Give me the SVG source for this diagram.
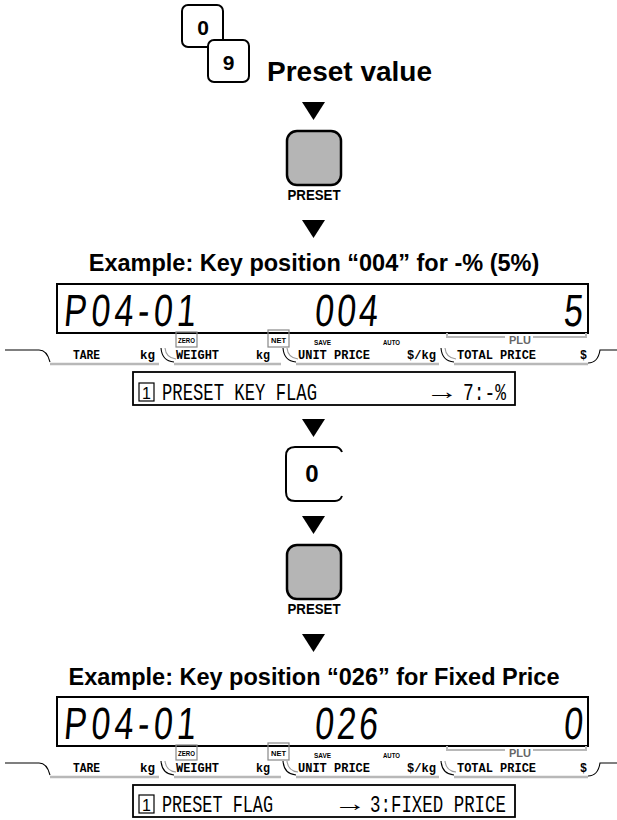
<svg xmlns="http://www.w3.org/2000/svg" width="617" height="820" viewBox="0 0 617 820">
<style>
.bg{fill:#fff}
.key{fill:#fff;stroke:#000;stroke-width:2}
.pkey{fill:#b5b5b5;stroke:#000;stroke-width:2.5}
.kt{font-family:"Liberation Sans",Arial,sans-serif;font-weight:bold;fill:#000;text-anchor:middle}
.title{font-family:"Liberation Sans",Arial,sans-serif;font-weight:bold;fill:#000}
.lcd{fill:#fff;stroke:#000;stroke-width:2}
.dig{font-family:"Liberation Sans",Arial,sans-serif;font-size:34px;fill:#000}
.lab{font-family:"Liberation Mono","DejaVu Sans Mono",monospace;font-weight:bold;font-size:13px;fill:#000}
.tiny{font-family:"Liberation Sans",Arial,sans-serif;font-weight:bold;font-size:6.5px;fill:#000}
.sbox{fill:none;stroke:#888;stroke-width:1.2}
.gl{fill:none;stroke:#b8b8b8;stroke-width:2.5}
.bl{fill:none;stroke:#000;stroke-width:1.1}
.gc{fill:none;stroke:#999;stroke-width:1.1}
.info{fill:#fff;stroke:#000;stroke-width:1.8}
.it{font-family:"Liberation Mono","DejaVu Sans Mono",monospace;font-size:23px;fill:#000}
.arr{fill:#000}
</style>
<defs>
<g id="strip">
<path class="bl" d="M5,350 H39 Q47,350 50,362"/>
<path class="gl" d="M50,364 H159"/>
<path class="bl" d="M161,348 Q162,361 174,362"/>
<path class="gc" d="M165,348 Q166,358 176,359"/>
<path class="gl" d="M174,364 H281"/>
<path class="bl" d="M283,348 Q284,361 296,362"/>
<path class="gc" d="M287,348 Q288,358 298,359"/>
<path class="gl" d="M296,364 H439"/>
<path class="bl" d="M441,348 Q442,361 454,362"/>
<path class="gc" d="M445,348 Q446,358 456,359"/>
<path class="gl" d="M454,364 H588"/>
<path class="bl" d="M588,363 Q598,363 600,350 H617"/>
<text class="lab" x="73" y="359" textLength="27" lengthAdjust="spacingAndGlyphs">TARE</text>
<text class="lab" x="140" y="359" textLength="15" lengthAdjust="spacingAndGlyphs">kg</text>
<text class="lab" x="176" y="359" textLength="43" lengthAdjust="spacingAndGlyphs">WEIGHT</text>
<text class="lab" x="256" y="359" textLength="14" lengthAdjust="spacingAndGlyphs">kg</text>
<text class="lab" x="298" y="359" textLength="72" lengthAdjust="spacingAndGlyphs">UNIT PRICE</text>
<text class="lab" x="407" y="359" textLength="29" lengthAdjust="spacingAndGlyphs">$/kg</text>
<text class="lab" x="457" y="359" textLength="79" lengthAdjust="spacingAndGlyphs">TOTAL PRICE</text>
<text class="lab" x="580" y="359" textLength="7" lengthAdjust="spacingAndGlyphs">$</text>
<path class="gl" d="M447,333 V337 H505 M533,337 H586 V333" style="stroke-width:2"/>
<text x="509" y="344" style="font-family:'Liberation Sans',Arial,sans-serif;font-weight:bold;font-size:10px;fill:#666" textLength="22" lengthAdjust="spacingAndGlyphs">PLU</text>
</g>
<g id="lcdframe">
<rect class="lcd" x="57" y="284" width="531" height="49"/>
<rect class="sbox" x="176" y="332" width="21" height="15" fill="#fff"/>
<text class="tiny" x="178" y="343" textLength="17" lengthAdjust="spacingAndGlyphs">ZERO</text>
<rect class="sbox" x="268" y="330" width="21" height="17" fill="#fff"/>
<text class="tiny" x="271" y="343" style="font-size:8px" textLength="15" lengthAdjust="spacingAndGlyphs">NET</text>
<text class="tiny" x="314" y="345" textLength="17" lengthAdjust="spacingAndGlyphs">SAVE</text>
<text class="tiny" x="383" y="345" textLength="17" lengthAdjust="spacingAndGlyphs">AUTO</text>
</g>
<path id="tri" d="M302,0 H325 L313.5,18 Z"/>
</defs>
<rect class="bg" width="617" height="820"/>

<g id="key0top">
<rect class="key" x="182" y="5" width="41" height="42" rx="6"/>
<text class="kt" x="203" y="35" font-size="21">0</text>
</g>
<g id="key9top">
<rect class="key" x="208" y="40" width="41" height="42" rx="6"/>
<text class="kt" x="228.5" y="70" font-size="21">9</text>
</g>
<g id="presetValue">
<text class="title" x="267" y="81" font-size="28">Preset value</text>
</g>

<g id="connectors">
<use href="#tri" class="arr" y="102"/>
<use href="#tri" class="arr" y="220"/>
<use href="#tri" class="arr" y="419"/>
<use href="#tri" class="arr" y="516"/>
<use href="#tri" class="arr" y="634"/>
</g>

<g id="presetKey1">
<rect class="pkey" x="287" y="131" width="54" height="54" rx="10"/>
<text class="kt" x="314" y="200" font-size="14" textLength="53" lengthAdjust="spacingAndGlyphs">PRESET</text>
</g>

<g id="example1">
<text class="title" x="314" y="271" font-size="23.5" text-anchor="middle">Example: Key position “004” for -% (5%)</text>
</g>

<g id="display1">
<use href="#lcdframe"/>
<text class="dig" transform="translate(63,326) skewX(-5) scale(1,1.33)" textLength="132" lengthAdjust="spacing">P04-01</text>
<text class="dig" transform="translate(314,326) skewX(-5) scale(1,1.33)" textLength="63" lengthAdjust="spacing">004</text>
<text class="dig" transform="translate(563,326) skewX(-5) scale(1,1.33)">5</text>
<use href="#strip"/>
</g>

<g id="info1">
<rect class="info" x="133" y="372" width="382" height="33"/>
<rect class="sbox" x="139" y="383" width="15" height="18" style="stroke:#000"/>
<text x="146.5" y="399" style="font-family:'Liberation Sans',Arial,sans-serif;font-size:16px;text-anchor:middle">1</text>
<text class="it" x="162" y="400" textLength="155" lengthAdjust="spacingAndGlyphs">PRESET KEY FLAG</text>
<text class="it" x="432" y="399" textLength="20" lengthAdjust="spacingAndGlyphs">→</text>
<text class="it" x="463" y="400" textLength="43" lengthAdjust="spacingAndGlyphs">7:-%</text>
</g>

<g id="key0mid">
<path class="key" d="M342,452 Q340,447 335,447 H295 Q286,447 286,456 V492 Q286,501 295,501 H335 Q340,501 342,496" fill="#fff"/>
<text class="kt" x="312" y="482" font-size="24">0</text>
</g>

<g id="presetKey2">
<rect class="pkey" x="287" y="545" width="54" height="54" rx="10"/>
<text class="kt" x="314" y="614" font-size="14" textLength="53" lengthAdjust="spacingAndGlyphs">PRESET</text>
</g>

<g id="example2">
<text class="title" x="314" y="685" font-size="23.5" text-anchor="middle">Example: Key position “026” for Fixed Price</text>
</g>

<g id="display2">
<g transform="translate(0,413)">
<use href="#lcdframe"/>
<use href="#strip"/>
</g>
<text class="dig" transform="translate(63,739) skewX(-5) scale(1,1.33)" textLength="132" lengthAdjust="spacing">P04-01</text>
<text class="dig" transform="translate(314,739) skewX(-5) scale(1,1.33)" textLength="63" lengthAdjust="spacing">026</text>
<text class="dig" transform="translate(563,739) skewX(-5) scale(1,1.33)">0</text>
</g>

<g id="info2">
<rect class="info" x="133" y="785" width="382" height="32"/>
<rect class="sbox" x="139" y="795" width="15" height="18" style="stroke:#000"/>
<text x="146.5" y="811" style="font-family:'Liberation Sans',Arial,sans-serif;font-size:16px;text-anchor:middle">1</text>
<text class="it" x="162" y="812" textLength="111" lengthAdjust="spacingAndGlyphs">PRESET FLAG</text>
<text class="it" x="340" y="811" textLength="20" lengthAdjust="spacingAndGlyphs">→</text>
<text class="it" x="370" y="812" textLength="136" lengthAdjust="spacingAndGlyphs">3:FIXED PRICE</text>
</g>
</svg>
